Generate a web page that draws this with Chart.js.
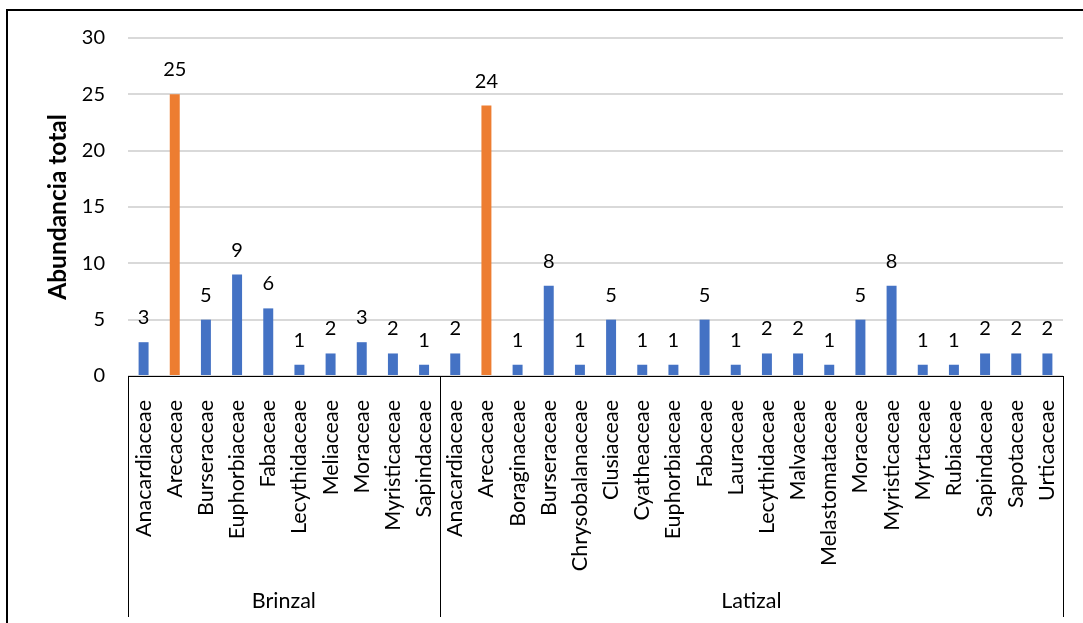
<!DOCTYPE html>
<html>
<head>
<meta charset="utf-8">
<script src="https://cdn.jsdelivr.net/npm/chart.js@4"></script>
<style>
  html, body { margin: 0; padding: 0; background: #fff; }
  #wrap { width: 1083px; height: 623px; position: relative; }
</style>
</head>
<body>
<div id="wrap"><canvas id="c" width="1083" height="623"></canvas></div>
<script>
// ---- data ----
const groupNames = ['Brinzal', 'Latizal'];
const brinzalFamilies = ['Anacardiaceae','Arecaceae','Burseraceae','Euphorbiaceae','Fabaceae','Lecythidaceae','Meliaceae','Moraceae','Myristicaceae','Sapindaceae'];
const brinzalValues   = [3, 25, 5, 9, 6, 1, 2, 3, 2, 1];
const latizalFamilies = ['Anacardiaceae','Arecaceae','Boraginaceae','Burseraceae','Chrysobalanaceae','Clusiaceae','Cyatheaceae','Euphorbiaceae','Fabaceae','Lauraceae','Lecythidaceae','Malvaceae','Melastomataceae','Moraceae','Myristicaceae','Myrtaceae','Rubiaceae','Sapindaceae','Sapotaceae','Urticaceae'];
const latizalValues   = [2, 24, 1, 8, 1, 5, 1, 1, 5, 1, 2, 2, 1, 5, 8, 1, 1, 2, 2, 2];
const yTicks = [0, 5, 10, 15, 20, 25, 30];
const yTitle = 'Abundancia total';
const highlightFamily = 'Arecaceae';

// ---- derived ----
const groups = [brinzalFamilies, latizalFamilies];
const labels = brinzalFamilies.concat(latizalFamilies);
const values = brinzalValues.concat(latizalValues);
const BLUE = '#4472C4', ORANGE = '#ED7D31';
const barColors = labels.map(l => l === highlightFamily ? ORANGE : BLUE);

const FONT = 'Lato, "Open Sans", sans-serif';

const valueLabels = {
  id: 'valueLabels',
  afterDatasetsDraw(chart) {
    const ctx = chart.ctx;
    const meta = chart.getDatasetMeta(0);
    ctx.save();
    ctx.font = '20px ' + FONT;
    ctx.fillStyle = '#000';
    ctx.textAlign = 'center';
    ctx.textBaseline = 'alphabetic';
    meta.data.forEach((bar, i) => {
      ctx.fillText(String(values[i]), bar.x, bar.y - 18);
    });
    ctx.restore();
  }
};

const groupAxis = {
  id: 'groupAxis',
  afterDraw(chart) {
    const ctx = chart.ctx;
    const xs = chart.scales.x;
    const n = labels.length;
    const w = (xs.right - xs.left) / n;
    const top = chart.chartArea.bottom;
    const bottom = 617;
    ctx.save();
    ctx.strokeStyle = '#000';
    ctx.lineWidth = 1;
    let start = 0;
    const bounds = [xs.left];
    groups.forEach(g => { start += g.length; bounds.push(xs.left + start * w); });
    bounds.forEach(bx => {
      const px = Math.round(bx) + 0.5;
      ctx.beginPath(); ctx.moveTo(px, top); ctx.lineTo(px, bottom); ctx.stroke();
    });
    ctx.font = '21.5px ' + FONT;
    ctx.fillStyle = '#000';
    ctx.textAlign = 'center';
    ctx.textBaseline = 'middle';
    groupNames.forEach((name, gi) => {
      ctx.fillText(name, (bounds[gi] + bounds[gi + 1]) / 2, 601);
    });
    // outer border
    ctx.lineWidth = 2;
    ctx.beginPath();
    ctx.moveTo(7, 623); ctx.lineTo(7, 10); ctx.lineTo(1083, 10);
    ctx.stroke();
    ctx.restore();
  }
};

new Chart(document.getElementById('c'), {
  type: 'bar',
  data: {
    labels: labels,
    datasets: [{
      data: values,
      backgroundColor: barColors,
      borderWidth: 0,
      barPercentage: 0.64,
      categoryPercentage: 0.5
    }]
  },
  options: {
    responsive: false,
    animation: false,
    layout: { padding: { top: 38, right: 20, bottom: 0, left: 0 } },
    plugins: { legend: { display: false }, tooltip: { enabled: false } },
    scales: {
      x: {
        grid: { display: false },
        border: { display: true, color: '#000', width: 1 },
        ticks: {
          autoSkip: false, minRotation: 90, maxRotation: 90,
          padding: 16, color: '#000',
          font: { family: FONT, size: 21.5 }
        },
        afterFit(scale) { scale.height = 247; scale.paddingLeft = 0; scale.paddingRight = 0; }
      },
      y: {
        min: 0, max: 30,
        afterBuildTicks(scale) { scale.ticks = yTicks.map(v => ({ value: v })); },
        grid: { color: '#D9D9D9', lineWidth: 2, drawTicks: false },
        border: { display: false },
        ticks: { padding: 23, color: '#000', font: { family: FONT, size: 20 } },
        title: {
          display: true, text: yTitle, color: '#000',
          font: { family: FONT, size: 24.5, weight: 'bold' },
          padding: { top: 43, bottom: 0 }
        },
        afterFit(scale) { scale.width = 128; scale.paddingTop = 0; scale.paddingBottom = 0; }
      }
    }
  },
  plugins: [valueLabels, groupAxis]
});
</script>
</body>
</html>
